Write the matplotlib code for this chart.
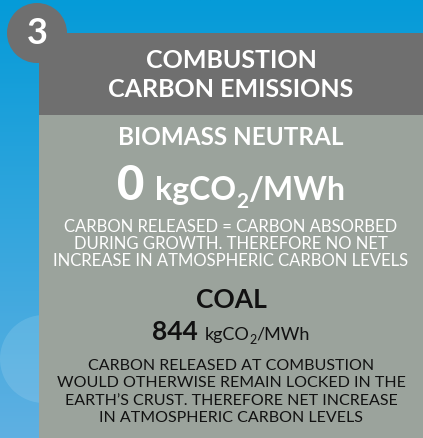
import matplotlib.pyplot as plt
import numpy as np
from matplotlib.patches import Rectangle, Circle

# Content of the panel
badge_number = "3"
title_lines = ["COMBUSTION", "CARBON EMISSIONS"]
biomass_label = "BIOMASS NEUTRAL"
biomass_value = "0"
biomass_note = ["CARBON RELEASED = CARBON ABSORBED",
                "DURING GROWTH. THEREFORE NO NET",
                "INCREASE IN ATMOSPHERIC CARBON LEVELS"]
coal_label = "COAL"
coal_value = "844"
unit_parts = ["kgCO", "2", "/MWh"]
coal_note = ["CARBON RELEASED AT COMBUSTION",
             "WOULD OTHERWISE REMAIN LOCKED IN THE",
             "EARTH\u2019S CRUST. THEREFORE NET INCREASE",
             "IN ATMOSPHERIC CARBON LEVELS"]

W, H = 423, 438
FONT = "Lato"

fig = plt.figure(figsize=(W / 100, H / 100), dpi=100)
ax = fig.add_axes([0, 0, 1, 1])
ax.set_xlim(0, W)
ax.set_ylim(H, 0)
ax.axis("off")

# blue gradient background
top = np.array([5, 155, 216]) / 255
bot = np.array([95, 176, 226]) / 255
t = np.linspace(0, 1, 200)[:, None]
grad = (top * (1 - t) + bot * t)[:, None, :].repeat(2, axis=1)
ax.imshow(grad, extent=[0, W, H, 0], aspect="auto", zorder=0)
ax.add_patch(Circle((44, 359), 44, color="white", alpha=0.12, lw=0, zorder=1))

# header box, badge and panel
header_col = "#6f6f6f"
panel_col = "#9ba39c"
ax.add_patch(Rectangle((39, 33), W - 39, 82, color=header_col, lw=0, zorder=2))
ax.add_patch(Circle((37, 33), 30, color=header_col, lw=0, zorder=2))
ax.add_patch(Rectangle((39, 115), W - 39, H - 115, color=panel_col, lw=0, zorder=2))

ax.text(37, 34, badge_number, color="white", fontsize=26, fontweight="bold",
        family=FONT, ha="center", va="center", zorder=3)

cx = (39 + W) / 2
for i, line in enumerate(title_lines):
    ax.text(cx, 68 + i * 29, line, color="white", fontsize=18, fontweight="bold",
            family=FONT, ha="center", va="baseline", zorder=3)

ax.text(cx, 145, biomass_label, color="white", fontsize=17.5, fontweight="bold",
        family=FONT, ha="center", va="baseline", zorder=3)

renderer = fig.canvas.get_renderer()


def draw_runs(runs, xc, yb, color):
    # runs: (text, size, weight, dy) placed left to right, centred at xc
    objs = []
    for txt, size, weight, dy in runs:
        o = ax.text(0, yb + dy, txt, color=color, fontsize=size, fontweight=weight,
                    family=FONT, ha="left", va="baseline", zorder=3)
        objs.append(o)
    widths = []
    inv = ax.transData.inverted()
    for o in objs:
        bb = o.get_window_extent(renderer)
        p0 = inv.transform((bb.x0, bb.y0))
        p1 = inv.transform((bb.x1, bb.y0))
        widths.append(p1[0] - p0[0])
    x = xc - sum(widths) / 2
    for o, w in zip(objs, widths):
        o.set_x(x)
        x += w


draw_runs([(biomass_value + " ", 34, "black", 0),
           (unit_parts[0], 23, "bold", 0),
           (unit_parts[1], 15, "bold", 8),
           (unit_parts[2], 23, "bold", 0)], cx, 200, "white")

for i, line in enumerate(biomass_note):
    ax.text(cx, 232 + i * 17, line, color="white", fontsize=12, fontweight="normal",
            family=FONT, ha="center", va="baseline", zorder=3)

ax.text(cx, 308, coal_label, color="#111111", fontsize=19, fontweight="bold",
        family=FONT, ha="center", va="baseline", zorder=3)

draw_runs([(coal_value + " ", 19, "bold", 0),
           (unit_parts[0], 13, "normal", 0),
           (unit_parts[1], 9, "normal", 4),
           (unit_parts[2], 13, "normal", 0)], cx, 340, "#111111")

for i, line in enumerate(coal_note):
    ax.text(cx, 370 + i * 17.3, line, color="#111111", fontsize=11.5, fontweight="normal",
            family=FONT, ha="center", va="baseline", zorder=3)

fig.savefig("out.png", dpi=100)
